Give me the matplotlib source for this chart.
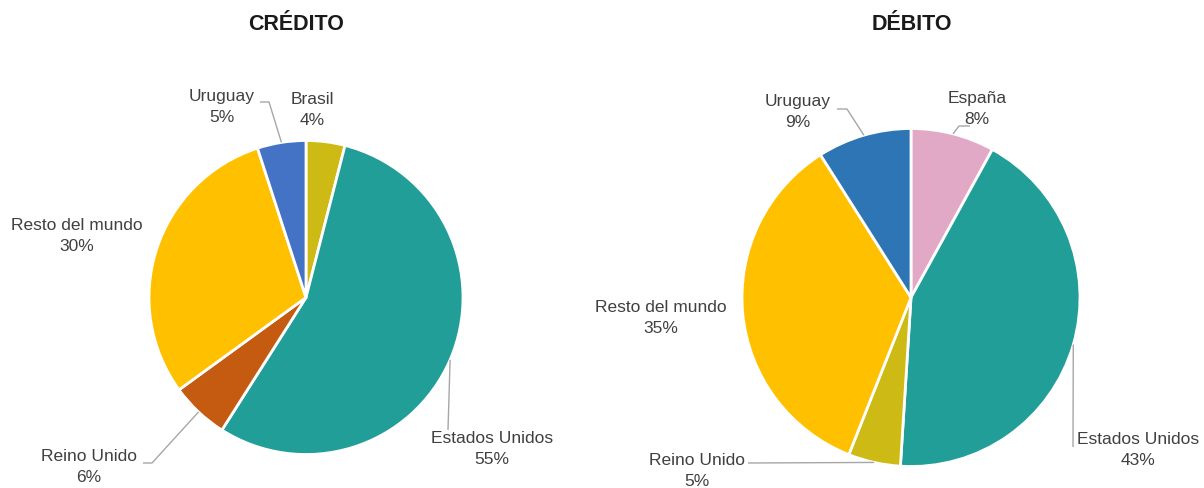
import numpy as np
import matplotlib
matplotlib.use('Agg')
import matplotlib.pyplot as plt

plt.rcParams['font.family'] = ['Liberation Sans', 'DejaVu Sans']

W, H = 1204, 488

# datos
credito_labels = ['Brasil', 'Estados Unidos', 'Reino Unido', 'Resto del mundo', 'Uruguay']
credito_values = [4, 55, 6, 30, 5]
credito_colors = ['#CEBA14', '#229E98', '#C55A11', '#FFC000', '#4472C4']

debito_labels = ['España', 'Estados Unidos', 'Reino Unido', 'Resto del mundo', 'Uruguay']
debito_values = [8, 43, 5, 35, 9]
debito_colors = ['#E2A9C7', '#229E98', '#CEBA14', '#FFC000', '#2E75B6']

TEXT = '#404040'
LINE = '#A6A6A6'

fig = plt.figure(figsize=(W / 100, H / 100), dpi=100)
ax = fig.add_axes([0, 0, 1, 1])


def Y(y):
    # coordenadas de imagen (y hacia abajo) -> datos
    return H - y


def draw_pie(values, labels, colors, cx, cy, r, title, tx, label_pos, leaders):
    wedges, _ = ax.pie(values, colors=colors, startangle=90, counterclock=False,
                       center=(cx, Y(cy)), radius=r,
                       wedgeprops=dict(edgecolor='white', linewidth=2.0))
    ax.text(tx, Y(25), title, ha='center', va='center', fontsize=15.5,
            fontweight='bold', color='#1a1a1a')
    for w, lab, val, pos in zip(wedges, labels, values, label_pos):
        ax.text(pos[0], Y(pos[1]), f'{lab}\n{val}%', ha='center', va='center',
                fontsize=12.5, color=TEXT, linespacing=1.45)
    # lineas guia: desde el borde del sector hasta la etiqueta
    for i, pts in leaders.items():
        w = wedges[i]
        mid = np.deg2rad((w.theta1 + w.theta2) / 2)
        ex = cx + r * np.cos(mid)
        ey = Y(cy) + r * np.sin(mid)
        xs = [p[0] for p in pts] + [ex]
        ys = [Y(p[1]) for p in pts] + [ey]
        ax.plot(xs, ys, color=LINE, lw=1.0, solid_capstyle='butt')


draw_pie(credito_values, credito_labels, credito_colors, 306, 297.5, 157,
         'CRÉDITO', 296,
         [(312, 110), (492, 449), (89, 467), (77, 236), (222, 107)],
         {4: [(260, 102), (269, 102)],
          2: [(143, 463), (152, 463)],
          1: [(448, 430)]})

draw_pie(debito_values, debito_labels, debito_colors, 911, 297.5, 169,
         'DÉBITO', 912,
         [(977, 109), (1138, 450), (697, 471), (661, 318), (798, 112)],
         {4: [(837, 109), (847, 109)],
          0: [(970, 126), (959, 126)],
          2: [(748, 463)],
          1: [(1073, 447)]})

ax.set_xlim(0, W)
ax.set_ylim(0, H)
ax.set_aspect('auto')
ax.axis('off')

fig.savefig('out.png', dpi=100)
